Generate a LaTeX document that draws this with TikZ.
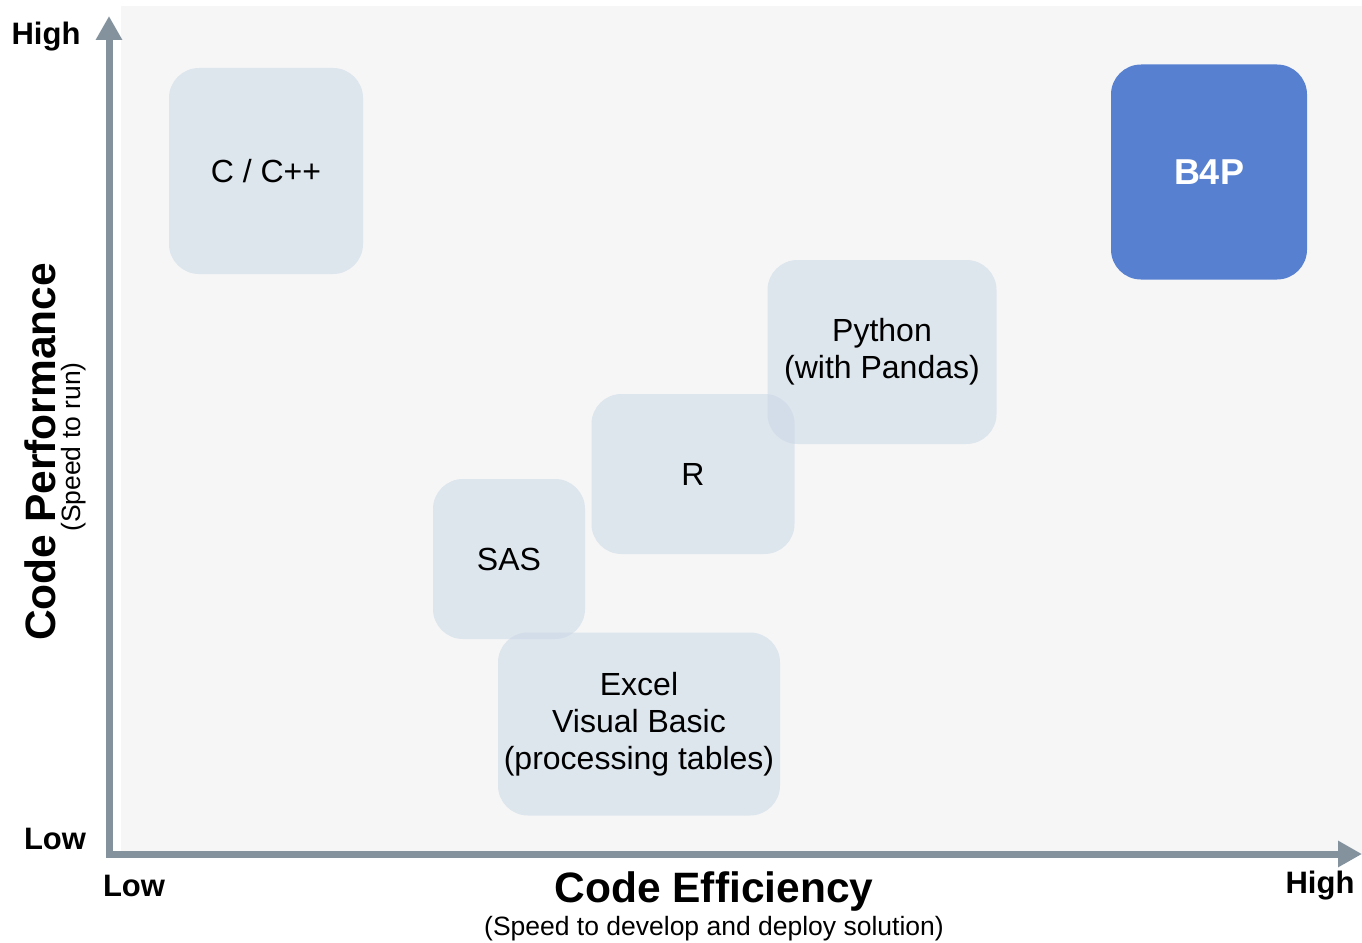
\documentclass[tikz,border=0pt]{standalone}
\usepackage{fontspec}
\setmainfont{Liberation Sans}
\usetikzlibrary{arrows.meta}
\definecolor{bgfill}{HTML}{F6F6F6}
\definecolor{boxfill}{HTML}{C9D8E6}
\definecolor{bfourp}{HTML}{5781D0}
\definecolor{axisgray}{HTML}{83929D}
\begin{document}
\begin{tikzpicture}[x=1pt,y=-1pt,
    lang/.style={rectangle,rounded corners=30pt,fill=boxfill,fill opacity=.55,text opacity=1,
      align=center,inner sep=0pt,font=\fontsize{32}{37}\selectfont},
    tag/.style={font=\bfseries\fontsize{31}{34}\selectfont,inner sep=0pt}]
  \useasboundingbox (0,0) rectangle (1362,942);
  \fill[bgfill] (121,6) rectangle (1362,855);
  % axes
  \coordinate (ytip) at (109,16);
  \coordinate (o) at (109,854);
  \coordinate (xtip) at (1362,854);
  \draw[axisgray,line width=7pt,{Triangle[length=24pt,width=25pt]}-{Triangle[length=24pt,width=25pt]}] (ytip) -- (o) -- (xtip);
  % languages
  \node[lang,minimum width=194pt,minimum height=206pt] (cpp) at (266,171) {C / C++};
  \node[lang,minimum width=229pt,minimum height=184pt] (python) at (882,352) {Python\\(with Pandas)};
  \node[lang,minimum width=203pt,minimum height=160pt] (r) at (693,474) {R};
  \node[lang,minimum width=152pt,minimum height=160pt] (sas) at (509,559) {SAS};
  \node[lang,minimum width=282pt,minimum height=183pt] (excel) at (639,724) {Excel\\Visual Basic\\(processing tables)};
  \node[lang,fill=bfourp,fill opacity=1,text=white,font=\bfseries\fontsize{36}{40}\selectfont,
    minimum width=196pt,minimum height=215pt] (b4p) at (1209,172) {B4P};
  % axis labels
  \node[tag] (yhigh) at (46,37) {High};
  \node[tag] (ylow) at (55,839) {Low};
  \node[tag] (xlow) at (134,886) {Low};
  \node[tag] (xhigh) at (1320,886) {High};
  \node[font=\bfseries\fontsize{42.5}{46}\selectfont,inner sep=0pt] (xtitle) at (714,892) {Code Efficiency};
  \node[font=\fontsize{26.5}{30}\selectfont,inner sep=0pt] (xsub) at (714,929) {(Speed to develop and deploy solution)};
  \node[font=\bfseries\fontsize{42.5}{46}\selectfont,inner sep=0pt,rotate=90] (ytitle) at (40,452) {Code Performance};
  \node[font=\fontsize{26.5}{30}\selectfont,inner sep=0pt,rotate=90] (ysub) at (74,447) {(Speed to run)};
\end{tikzpicture}
\end{document}
